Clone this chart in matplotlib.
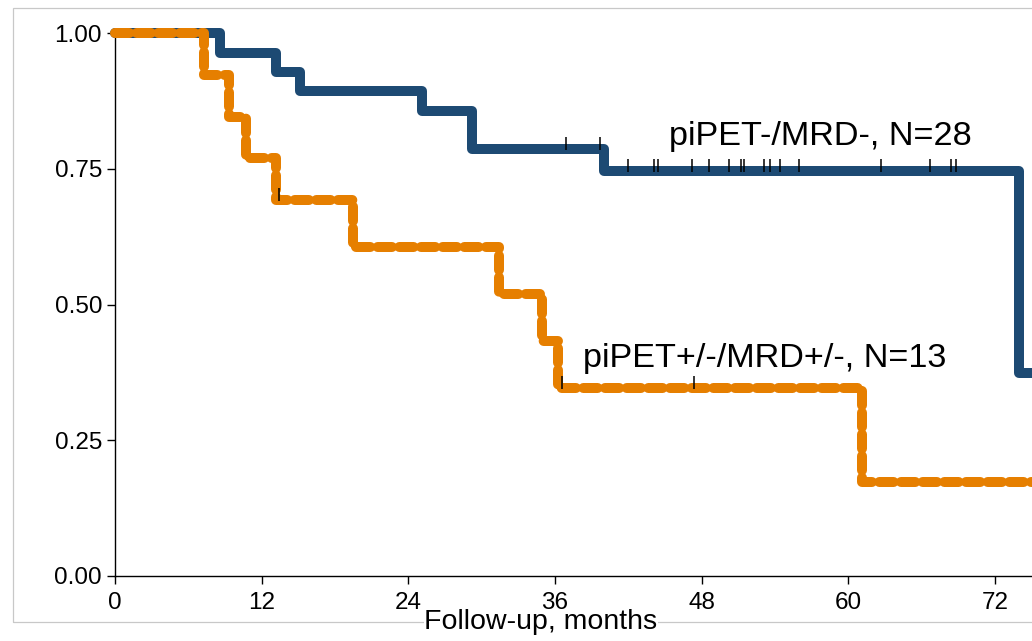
import matplotlib
matplotlib.use("Agg")
import matplotlib.pyplot as plt
from matplotlib.patches import Rectangle
import numpy as np

plt.rcParams["font.family"] = ["Liberation Sans", "DejaVu Sans"]
plt.rcParams["lines.scale_dashes"] = False

# Kaplan-Meier step data (time in months, survival probability after each step)
neg_times = [0, 8.6, 13.2, 15.1, 25.1, 29.2, 40.0, 74.0]
neg_surv = [1.0, 0.964, 0.929, 0.893, 0.857, 0.786, 0.746, 0.373]
neg_censored = [36.9, 39.7, 42.0, 44.1, 44.4, 47.2, 48.6, 50.2, 51.2, 51.5,
                53.1, 53.6, 54.4, 56.0, 62.7, 66.7, 68.4, 68.8]
neg_label = "piPET-/MRD-, N=28"

pos_times = [0, 7.3, 9.3, 10.7, 13.2, 19.5, 31.4, 34.9, 36.25, 61.1]
pos_surv = [1.0, 0.923, 0.846, 0.769, 0.692, 0.606, 0.519, 0.433, 0.346, 0.173]
pos_censored = [13.4, 36.6, 47.4]
pos_label = "piPET+/-/MRD+/-, N=13"

followup_end = 80
x_ticks = [0, 12, 24, 36, 48, 60, 72]
y_ticks = [0.0, 0.25, 0.50, 0.75, 1.00]

BLUE = "#1d4a73"
ORANGE = "#e67f00"

W, H = 1032, 641
fig = plt.figure(figsize=(W / 100, H / 100), dpi=100)
fig.patch.set_facecolor("white")

px_per_month = 880 / 72
ax_left, ax_bottom, ax_top = 115, 576, 33
xmax = 84
ax = fig.add_axes([ax_left / W, (H - ax_bottom) / H,
                   xmax * px_per_month / W, (ax_bottom - ax_top) / H])
ax.set_facecolor("none")
ax.set_zorder(2)
ax.set_xlim(0, xmax)
ax.set_ylim(0, 1)


def step_xy(times, surv, end):
    return list(times) + [end], list(surv) + [surv[-1]]


def level_at(times, surv, t):
    idx = np.searchsorted(np.asarray(times), t, side="right") - 1
    return np.asarray(surv)[idx]


lw = 7.2
bx, by = step_xy(neg_times, neg_surv, followup_end)
ax.step(bx, by, where="post", color=BLUE, lw=lw, clip_on=False,
        solid_joinstyle="round", solid_capstyle="round", zorder=3)

ox, oy = step_xy(pos_times, pos_surv, followup_end)
ax.step(ox, oy, where="post", color=ORANGE, lw=lw, clip_on=False,
        linestyle=(0, (10.3, 5.3)), dash_capstyle="round",
        dash_joinstyle="round", zorder=4)

# censoring marks
for times, surv, cens in [(neg_times, neg_surv, neg_censored),
                          (pos_times, pos_surv, pos_censored)]:
    lev = np.array([level_at(times, surv, t) for t in cens])
    ax.vlines(cens, lev - 0.002, lev + 0.022, color="black", lw=1.1,
              zorder=5, clip_on=False)

ax.text(45.3, 0.794, neg_label, fontsize=24.7, color="black",
        ha="left", va="baseline", zorder=6)
ax.text(38.3, 0.385, pos_label, fontsize=24.7, color="black",
        ha="left", va="baseline", zorder=6)

for side in ("top", "right"):
    ax.spines[side].set_visible(False)
for side in ("left", "bottom"):
    ax.spines[side].set_linewidth(1.0)
    ax.spines[side].set_color("black")

ax.set_xticks(x_ticks)
ax.set_xticklabels([str(t) for t in x_ticks])
ax.set_yticks(y_ticks)
ax.set_yticklabels([f"{v:.2f}" for v in y_ticks])
ax.tick_params(axis="both", direction="out", length=5.8, width=1.0,
               labelsize=17.5, colors="black")
ax.tick_params(axis="y", pad=3.5)
ax.tick_params(axis="x", pad=6)

# outer light frame
fig.patches.append(Rectangle((12.7 / W, (H - 621.7) / H), 1.2,
                             (621.7 - 8.3) / H, transform=fig.transFigure,
                             fill=False, edgecolor="#c8c8c8", lw=0.9,
                             zorder=0))

fig.text(541 / W, (H - 629) / H, "Follow-up, months", fontsize=20.5,
         ha="center", va="baseline", color="black",
         bbox=dict(facecolor="white", edgecolor="none", pad=0), zorder=1)

fig.savefig("out.png", dpi=100)
